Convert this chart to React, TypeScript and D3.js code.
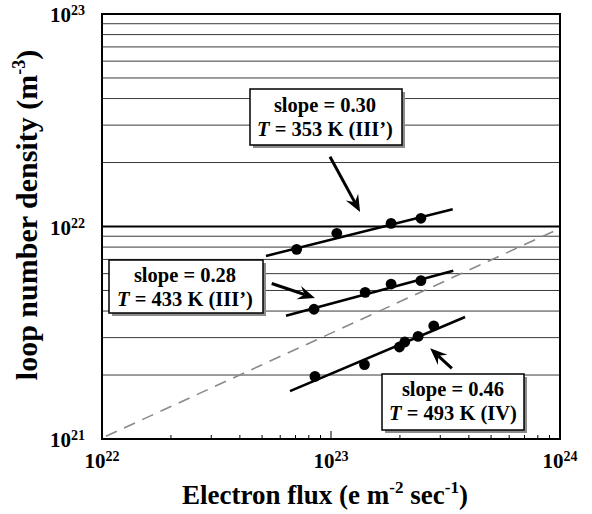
import React from "react";
import * as d3 from "d3";

// ---- data ----
const flux353 = [7.08e22, 1.06e23, 1.83e23, 2.47e23];
const dens353 = [7.81e21, 9.29e21, 1.035e22, 1.093e22];
const fitFlux353 = [5.2e22, 3.4e23];
const fitDens353 = [7.27e21, 1.205e22];

const flux433 = [8.43e22, 1.41e23, 1.83e23, 2.47e23];
const dens433 = [4.08e21, 4.9e21, 5.36e21, 5.56e21];
const fitFlux433 = [6.36e22, 3.42e23];
const fitDens433 = [3.8e21, 6.19e21];

const flux493 = [8.51e22, 1.4e23, 1.99e23, 2.1e23, 2.4e23, 2.81e23];
const dens493 = [1.97e21, 2.24e21, 2.71e21, 2.86e21, 3.04e21, 3.41e21];
const fitFlux493 = [6.62e22, 3.85e23];
const fitDens493 = [1.68e21, 3.75e21];

const refFlux = [1.04e22, 1e24];
const refDens = [1.03e21, 9.8e21];

const xTickExps = [22, 23, 24];
const yTickExps = [21, 22, 23];

const labels = [
  { l1: "slope = 0.30", t: "353 K (III\u2019)" },
  { l1: "slope = 0.28", t: "433 K (III\u2019)" },
  { l1: "slope = 0.46", t: "493 K (IV)" },
];
// arrows in data coordinates
const arrowFromFlux = [9.9e22, 5.51e22, 3.37e23];
const arrowFromDens = [2.13e22, 5.39e21, 2.15e21];
const arrowToFlux = [1.34e23, 8.51e22, 2.71e23];
const arrowToDens = [1.17e22, 4.61e21, 2.67e21];

// ---- layout ----
const W = 592, H = 514;
const L = 102, R = 560, T = 14, B = 439;
const boxes = [
  { x: 250, y: 89, w: 152, h: 56, cx: 325, b1: 112, b2: 136 },
  { x: 109, y: 260, w: 154, h: 53, cx: 185, b1: 282, b2: 306 },
  { x: 382, y: 374, w: 142, h: 56, cx: 453, b1: 396, b2: 420 },
];
const FONT = "'Liberation Serif', 'Times New Roman', serif";

export default function App() {
  const x = d3.scaleLog().domain([1e22, 1e24]).range([L, R]);
  const y = d3.scaleLog().domain([1e21, 1e23]).range([B, T]);
  const line = d3
    .line<[number, number]>()
    .x((d) => x(d[0]))
    .y((d) => y(d[1]));

  const yGrid = y.ticks().filter((v) => v > 1e21 * 1.0001 && v < 1e23 * 0.9999);
  const xMinor = x.ticks().filter((v) => v > 1e22 * 1.0001 && v < 1e24 * 0.9999);

  const series = [
    { fx: flux353, fy: dens353, lx: fitFlux353, ly: fitDens353 },
    { fx: flux433, fy: dens433, lx: fitFlux433, ly: fitDens433 },
    { fx: flux493, fy: dens493, lx: fitFlux493, ly: fitDens493 },
  ];

  const arrow = (i: number) => {
    const x0 = x(arrowFromFlux[i]), y0 = y(arrowFromDens[i]);
    const x1 = x(arrowToFlux[i]), y1 = y(arrowToDens[i]);
    const ang = Math.atan2(y1 - y0, x1 - x0);
    const len = 17, half = 7, notch = 11;
    const cos = Math.cos(ang), sin = Math.sin(ang);
    const bx = x1 - len * cos, by = y1 - len * sin;
    const nx = x1 - notch * cos, ny = y1 - notch * sin;
    const p1 = [bx - half * sin, by + half * cos];
    const p2 = [bx + half * sin, by - half * cos];
    return (
      <g key={"a" + i}>
        <line x1={x0} y1={y0} x2={nx} y2={ny} stroke="#000" strokeWidth={3} />
        <path d={`M${x1},${y1}L${p1[0]},${p1[1]}L${nx},${ny}L${p2[0]},${p2[1]}Z`} fill="#000" />
      </g>
    );
  };

  return (
    <svg width={W} height={H} style={{ position: "absolute", left: 0, top: 0, background: "#fff" }} fontFamily={FONT}>
      <rect x={0} y={0} width={W} height={H} fill="#fff" />
      {/* grid */}
      {yGrid.map((v, i) => {
        const is10 = Math.abs(Math.log10(v) - Math.round(Math.log10(v))) < 1e-6;
        return (
          <line key={"g" + i} x1={L} x2={R} y1={y(v)} y2={y(v)} stroke={is10 ? "#000" : "#3a3a3a"} strokeWidth={is10 ? 2 : 1} />
        );
      })}
      {/* bottom ticks */}
      {xMinor.map((v, i) => {
        const is10 = Math.abs(Math.log10(v) - Math.round(Math.log10(v))) < 1e-6;
        return <line key={"t" + i} x1={x(v)} x2={x(v)} y1={B} y2={B - (is10 ? 8 : 4)} stroke="#000" strokeWidth={1} />;
      })}
      {/* reference dashed line */}
      <path
        d={line(refFlux.map((v, i) => [v, refDens[i]]) as [number, number][]) || ""}
        fill="none"
        stroke="#8a8a8a"
        strokeWidth={1.6}
        strokeDasharray="12 8"
      />
      {/* fits and points */}
      {series.map((s, i) => (
        <g key={"s" + i}>
          <path d={line(s.lx.map((v, j) => [v, s.ly[j]]) as [number, number][]) || ""} fill="none" stroke="#000" strokeWidth={2.6} />
          {s.fx.map((v, j) => (
            <circle key={j} cx={x(v)} cy={y(s.fy[j])} r={5.4} fill="#000" />
          ))}
        </g>
      ))}
      {/* frame */}
      <rect x={L} y={T} width={R - L} height={B - T} fill="none" stroke="#000" strokeWidth={2} />
      {/* arrows */}
      {[0, 1, 2].map((i) => arrow(i))}
      {/* boxes */}
      {boxes.map((b, i) => (
        <g key={"b" + i}>
          <rect x={b.x + 3} y={b.y + 3} width={b.w} height={b.h} fill="#8c8c8c" />
          <rect x={b.x} y={b.y} width={b.w} height={b.h} fill="#fff" stroke="#000" strokeWidth={1.5} />
          <text x={b.cx} y={b.b1} textAnchor="middle" fontSize={20.5} fontWeight="bold">
            {labels[i].l1}
          </text>
          <text x={b.cx} y={b.b2} textAnchor="middle" fontSize={20.5} fontWeight="bold">
            <tspan fontStyle="italic">T</tspan>
            <tspan> = {labels[i].t}</tspan>
          </text>
        </g>
      ))}
      {/* x tick labels */}
      {xTickExps.map((e) => (
        <text key={"xl" + e} x={x(Math.pow(10, e))} y={468} textAnchor="middle" fontWeight="bold" fontSize={21}>
          <tspan>10</tspan>
          <tspan fontSize={14} dy={-7}>{e}</tspan>
        </text>
      ))}
      {/* y tick labels */}
      {yTickExps.map((e) => (
        <text key={"yl" + e} x={85} y={y(Math.pow(10, e)) + 8} textAnchor="end" fontWeight="bold" fontSize={21}>
          <tspan>10</tspan>
          <tspan fontSize={14} dy={-7}>{e}</tspan>
        </text>
      ))}
      {/* axis titles */}
      <text x={325} y={504} textAnchor="middle" fontWeight="bold" fontSize={27}>
        <tspan>Electron flux (e m</tspan>
        <tspan fontSize={17} dy={-11}>-2</tspan>
        <tspan dy={11}> sec</tspan>
        <tspan fontSize={17} dy={-11}>-1</tspan>
        <tspan dy={11}>)</tspan>
      </text>
      <text transform="translate(37,215) rotate(-90)" textAnchor="middle" fontWeight="bold" fontSize={30}>
        <tspan>loop number density (m</tspan>
        <tspan fontSize={18} dy={-12}>-3</tspan>
        <tspan dy={12}>)</tspan>
      </text>
    </svg>
  );
}
